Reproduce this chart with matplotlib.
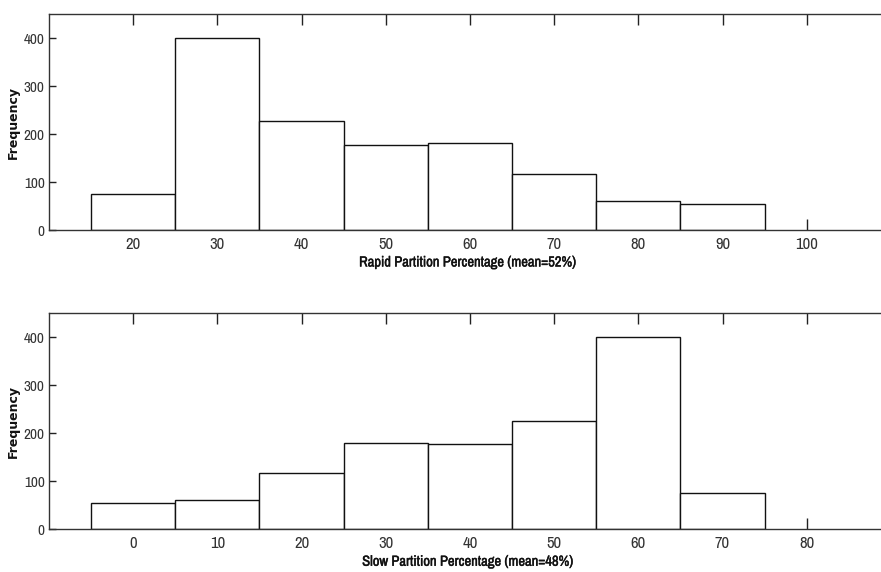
import matplotlib
matplotlib.use("Agg")
import matplotlib.pyplot as plt
import matplotlib.patheffects as pe
from matplotlib import font_manager

# Histogram counts
rapid_centers = [20, 30, 40, 50, 60, 70, 80, 90]
rapid_counts = [76, 400, 227, 177, 182, 117, 60, 54]
slow_centers = [0, 10, 20, 30, 40, 50, 60, 70]
slow_counts = [54, 60, 117, 180, 177, 225, 400, 75]

rapid_ticks = [20, 30, 40, 50, 60, 70, 80, 90, 100]
slow_ticks = [0, 10, 20, 30, 40, 50, 60, 70, 80]
y_ticks = [0, 100, 200, 300, 400]

# look for a condensed face for the MATLAB-like labels
narrow = "Liberation Sans"
for f in font_manager.fontManager.ttflist:
    if "Narrow" in f.name or "Condensed" in f.name:
        narrow = f.name
        break
plt.rcParams["font.family"] = [narrow, "DejaVu Sans"]

fig = plt.figure(figsize=(8.81, 5.72), dpi=100)

panels = [
    (0.5979, rapid_centers, rapid_counts, rapid_ticks, (10, 110),
     "Rapid Partition Percentage (mean=52%)"),
    (0.0747, slow_centers, slow_counts, slow_ticks, (-10, 90),
     "Slow Partition Percentage (mean=48%)"),
]

for bottom, centers, counts, ticks, xlim, label in panels:
    ax = fig.add_axes([0.0556, bottom, 0.9557, 0.3776])
    ax.bar(centers, counts, width=10, color="white", edgecolor="#111111",
           linewidth=1.0, zorder=2)
    ax.set_xlim(*xlim)
    ax.set_ylim(0, 450)
    ax.set_xticks(ticks)
    ax.set_yticks(y_ticks)
    ax.tick_params(axis="x", direction="in", length=8, width=1, top=True,
                   pad=5, labelsize=12, labelcolor="#333333", color="#222222")
    ax.tick_params(axis="y", direction="in", length=5, width=1, pad=3,
                   labelsize=11, labelcolor="#333333", color="#222222")
    for s in ["left", "top", "bottom"]:
        ax.spines[s].set_color("#333333")
        ax.spines[s].set_linewidth(1.0)
    ax.spines["right"].set_visible(False)
    xl = ax.set_xlabel(label, fontsize=10.5, color="#111111", va="top")
    xl.set_path_effects([pe.withStroke(linewidth=0.3, foreground="#111111")])
    ax.xaxis.set_label_coords(0.498, -0.118)
    ax.set_ylabel("Frequency", fontsize=9, fontweight="bold",
                  fontfamily="DejaVu Sans", color="#111111", va="center")
    ax.yaxis.set_label_coords(-0.042, 0.5)

fig.savefig("out.png", dpi=100)
